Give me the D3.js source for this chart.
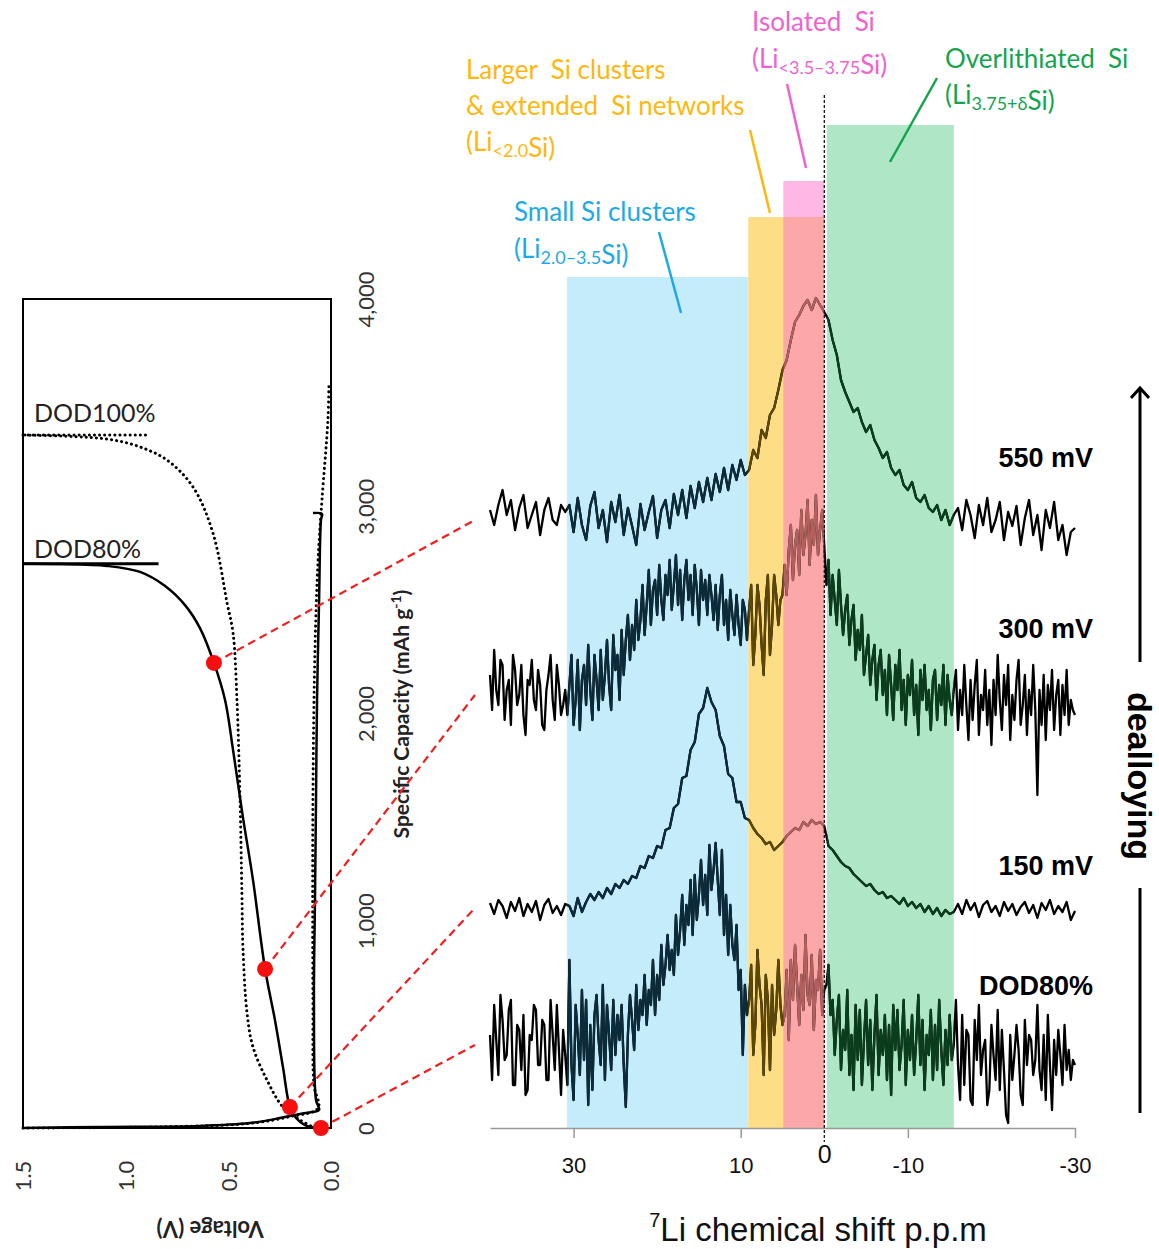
<!DOCTYPE html>
<html>
<head>
<meta charset="utf-8">
<script src="https://d3js.org/d3.v7.min.js"></script>
<style>
  body { margin: 0; background: #fff; }
  text { font-family: Lato, "Open Sans", sans-serif; }
  .arial { font-family: "Liberation Sans", Arial, sans-serif; }
</style>
</head>
<body>
<div id="chart"></div>
<script>
// ---------- data ----------
// 7Li NMR spectra from 40 to -30 ppm. 550 mV and 150 mV sampled every 0.5 ppm,
// 300 mV and DOD80% every 0.25 ppm (intensity relative to each baseline)
const spec550 = [10,-5,15,30,5,20,-10,12,25,-8,5,18,-15,10,22,0,-5,15,8,
  15,-12,22,-5,-20,14,28,-8,10,-22,18,-2,25,-15,12,-6,-25,16,-10,8,24,-18,10,20,-8,26,5,30,2,34,12,38,18,42,20,46,28,52,30,55,40,60,45,
  50,70,62,90,82,105,112,130,150,
  160,180,198,205,214,220,210,222,215,208,
  200,180,165,140,128,118,108,112,98,88,95,80,72,62,68,52,45,50,35,30,38,22,18,25,12,8,15,0,10,-5,5,
  12,-10,20,5,-18,15,-5,22,-12,0,18,-20,8,-6,14,-25,2,20,-15,5,-30,10,-8,18,-20,-5,-35,-12,-8];

const spec300 = [20,-15,45,5,-10,35,30,-25,5,15,-30,40,25,-10,0,30,-20,-40,15,10,35,-5,-15,25,10,-30,-35,5,20,40,-5,-25,30,10,-20,-10,5,
  -20,10,40,-30,-5,35,-35,15,30,-10,50,5,-25,40,15,-15,
  45,-5,20,55,10,-15,60,25,40,-5,
  65,20,55,80,35,70,45,95,55,75,110,60,
  90,125,70,105,115,80,130,95,75,120,100,135,85,110,
  140,90,125,75,115,135,95,120,80,130,
  105,70,125,95,115,80,120,100,75,
  110,65,100,120,70,95,55,105,80,
  60,100,70,50,95,85,55,
  85,110,30,60,110,90,50,20,95,120,40,70,120,100,70,95,100,
  130,100,145,170,115,150,165,120,185,140,160,195,130,175,150,200,140,165,185,150,
  110,135,80,120,95,70,125,90,60,85,
  100,50,75,90,35,65,45,80,20,40,
  60,10,35,50,-5,30,45,0,
  25,-20,40,10,-25,30,5,45,-15,15,
  -30,20,0,35,-20,10,-40,25,-5,30,-15,5,-35,15,25,-25,10,-10,30,-30,20,-5,-20,5,
  25,-35,5,-20,30,-10,-45,15,-25,10,35,-40,0,-15,25,-30,5,-50,15,-20,40,-5,-35,20,-10,30,-45,0,-25,15,35,-30,-10,20,-40,5,-20,30,-15,
  -100,
  5,-30,20,-45,10,-15,25,-35,0,15,-40,10,-20,25,-30,-5,-15,-20];

const spec150 = [5,-6,8,2,-10,6,-3,10,-8,4,-4,7,-12,3,9,-5,2,-7,4,
  2,-8,10,-4,6,14,8,16,10,20,14,24,20,28,24,32,30,42,40,52,50,62,60,78,80,100,104,130,132,158,166,194,200,220,206,198,172,162,134,130,106,106,90,
  88,80,74,70,64,66,58,62,66,
  72,76,80,78,86,82,88,84,86,82,
  62,58,52,46,42,40,34,30,26,22,24,18,14,16,10,12,8,4,10,2,6,0,4,-4,2,-6,0,-8,-2,-6,-4,
  4,-6,8,-2,5,-9,3,7,-4,2,-8,6,-3,4,-7,1,6,-5,3,-10,5,-2,8,-6,2,-4,6,-12,-3];

const specDOD80 = [10,-35,40,5,-30,50,25,-15,-10,35,45,-40,-40,20,15,-25,30,-50,-45,10,5,40,35,-20,-20,25,20,-35,-35,45,10,-25,40,-5,-50,15,-10,
  -40,85,-20,-55,40,10,-30,55,-15,45,-60,20,-45,30,50,5,
  -20,60,-35,40,10,-25,45,-10,30,5,
  40,-20,-62,10,50,25,-5,60,15,45,30,70,
  20,55,40,85,30,70,45,100,60,80,110,75,95,70,
  130,90,115,150,100,140,120,165,110,170,
  125,150,185,140,170,130,200,155,175,
  202,165,130,195,110,150,90,140,100,
  85,120,55,75,-10,60,30,
  45,80,-10,20,95,60,40,-30,70,45,-25,60,10,35,85,40,20,
  30,75,5,85,45,100,60,20,70,35,110,50,40,90,15,65,55,95,30,55,
  60,80,30,45,-10,25,50,-25,15,-5,
  55,-30,10,-45,40,-15,35,-40,5,45,-20,25,-45,10,50,-30,15,-10,30,-35,20,-50,40,-5,35,-25,0,45,-40,15,-15,30,-30,5,50,-20,25,-45,10,-10,35,-35,20,-25,45,-5,-40,15,-20,30,-15,0,
  45,-20,-55,30,-40,15,10,-55,-60,25,-15,40,-30,-5,5,-60,-45,20,-10,-35,35,-45,15,-25,-70,-78,10,-35,-10,20,-5,-50,-60,25,-20,10,5,-30,-15,40,-25,-45,10,-55,30,-20,-65,5,-30,15,-10,-40,20,-25,-5,-35,-15,-20];

const spectra = [spec550, spec300, spec150, specDOD80];
const specStep = [0.5, 0.25, 0.5, 0.25];
const specLabels = ['550 mV', '300 mV', '150 mV', 'DOD80%'];
const specOffsets = [608, 433, 220, 83];

// chemical shift bands (ppm ranges and heights in intensity units)
const bandNames = ['small', 'larger', 'isolatedTop', 'isolated', 'over'];
const bandFrom = [30.8, 9.1, 4.9, 4.9, -0.3];
const bandTo = [9.1, 4.9, 0, 0, -15.5];
const bandTop = [851, 911, 947, 911, 1003];

const shiftTicks = [30, 10, 0, -10, -30];

// galvanostatic curves: [voltage (V), capacity (mAh/g)]
const lith80 = [[1.5,0],[1.125,5],[0.638,10],[0.395,24],[0.248,48],[0.151,68],[0.093,77],[0.058,87],[0.073,135],[0.083,618],[0.078,1100],[0.073,1583],[0.068,2065],[0.058,2548],[0.049,2934],[0.044,2963],[0.088,2967]];
const delith80 = [[0.05,0],[0.127,14],[0.17,48],[0.2,101],[0.234,294],[0.273,521],[0.321,767],[0.38,1197],[0.429,1500],[0.477,1824],[0.516,2065],[0.57,2244],[0.638,2412],[0.711,2523],[0.808,2615],[0.93,2683],[1.091,2712],[1.32,2721],[1.5,2722]];
const lith100 = [[1.5,0],[0.8,6],[0.4,22],[0.2,55],[0.063,96],[0.083,207],[0.088,618],[0.088,1583],[0.078,2306],[0.063,2740],[0.044,3030],[0.015,3416],[0.01,3600]];
const delith100 = [[0.078,0],[0.151,39],[0.234,101],[0.312,232],[0.38,391],[0.409,555],[0.429,873],[0.434,1134],[0.443,1583],[0.458,2065],[0.477,2388],[0.506,2533],[0.575,2871],[0.672,3093],[0.799,3223],[0.93,3286],[1.062,3320],[1.208,3334],[1.5,3344]];
const dod80Mark = [[1.5,2722],[0.84,2722]];
const dod100Mark = [[1.5,3344],[0.9,3344]];
// points where spectra were taken: DOD80%, 150 mV, 300 mV, 550 mV
const samplePoints = [[0.049,0],[0.2,101],[0.321,767],[0.57,2244]];
const sampleSpec = [3, 2, 1, 0];

const capTicks = [0, 1000, 2000, 3000, 4000];
const voltTicks = [0, 0.5, 1.0, 1.5];

// ---------- drawing ----------
const width = 1159, height = 1249;
const svg = d3.select('#chart').append('svg')
  .attr('width', width).attr('height', height);
const defs = svg.append('defs');

const bandFill = { small: '#c5ecfa', larger: '#fedd87', isolatedTop: '#fdb8e5', isolated: '#fda8a8', over: '#aee6c6' };
const bandLine = { small: '#0b2b3b', larger: '#5c4705', isolated: '#b2605e', over: '#0a3d1c' };

// ---- right panel: spectra ----
const xScale = d3.scaleLinear().domain([40, -30]).range([490, 1075]);
const yScale = d3.scaleLinear().domain([0, 1000]).range([1128, 128]);

const bands = bandNames.map((n, i) => ({ name: n, from: bandFrom[i], to: bandTo[i], top: bandTop[i] }));

svg.append('g').selectAll('rect').data(bands).enter().append('rect')
  .attr('x', d => xScale(d.from))
  .attr('width', d => xScale(d.to) - xScale(d.from))
  .attr('y', d => yScale(d.top))
  .attr('height', d => yScale(0) - yScale(d.top))
  .attr('fill', d => bandFill[d.name]);

bands.filter(d => bandLine[d.name]).forEach(d => {
  defs.append('clipPath').attr('id', 'clip-' + d.name)
    .append('rect')
    .attr('x', xScale(d.from)).attr('width', xScale(d.to) - xScale(d.from))
    .attr('y', 0).attr('height', height);
});

const specG = svg.append('g');
spectra.forEach((s, k) => {
  const line = d3.line()
    .x((d, i) => xScale(40 - i * specStep[k]))
    .y(d => yScale(specOffsets[k] + d));
  specG.append('path').attr('d', line(s))
    .attr('fill', 'none').attr('stroke', '#000')
    .attr('stroke-width', 2.3).attr('stroke-linejoin', 'round');
  bands.filter(d => bandLine[d.name]).forEach(b => {
    specG.append('path').attr('d', line(s))
      .attr('clip-path', 'url(#clip-' + b.name + ')')
      .attr('fill', 'none').attr('stroke', bandLine[b.name])
      .attr('stroke-width', 2.3).attr('stroke-linejoin', 'round');
  });
});

// spectrum labels
const labelLift = [62, 66, 42, 59];
svg.append('g').selectAll('text').data(specLabels).enter().append('text')
  .attr('class', 'arial')
  .attr('x', 1093)
  .attr('y', (d, i) => yScale(specOffsets[i]) - labelLift[i] + 9)
  .attr('text-anchor', 'end')
  .attr('font-size', 27).attr('font-weight', 'bold')
  .text(d => d);

// zero reference line
svg.append('line')
  .attr('x1', xScale(0)).attr('x2', xScale(0))
  .attr('y1', 95).attr('y2', 1142)
  .attr('stroke', '#000').attr('stroke-width', 1.2)
  .attr('stroke-dasharray', '3,2');

// x axis
const xAxis = d3.axisBottom(xScale)
  .tickValues(shiftTicks)
  .tickSize(10).tickSizeOuter(0).tickPadding(19)
  .tickFormat(d => d);
const xAxisG = svg.append('g').attr('transform', `translate(0,${yScale(0)})`).call(xAxis);
xAxisG.select('.domain').attr('stroke', '#999').attr('stroke-width', 1.5);
xAxisG.selectAll('.tick line').attr('stroke', '#999').attr('stroke-width', 1.5)
  .filter(d => d === 0).remove();
xAxisG.selectAll('.tick text')
  .attr('class', 'arial').attr('fill', '#111')
  .attr('dy', d => d === 0 ? '0.25em' : '0.71em')
  .attr('font-size', d => d === 0 ? 25 : 22);

const xTitle = svg.append('text').attr('class', 'arial')
  .attr('x', 818).attr('y', 1241).attr('text-anchor', 'middle')
  .attr('font-size', 33).attr('fill', '#111');
xTitle.append('tspan').attr('font-size', 20).attr('dy', -14).text('7');
xTitle.append('tspan').attr('dy', 14).text('Li chemical shift p.p.m');

// dealloying arrow
defs.append('marker').attr('id', 'arrowhead')
  .attr('viewBox', '0 0 20 20').attr('refX', 13).attr('refY', 10)
  .attr('markerWidth', 20).attr('markerHeight', 20).attr('markerUnits', 'userSpaceOnUse')
  .attr('orient', 'auto')
  .append('path').attr('d', 'M3,1 L13,10 L3,19')
  .attr('fill', 'none').attr('stroke', '#000').attr('stroke-width', 3);
svg.append('line').attr('x1', 1140).attr('x2', 1140).attr('y1', 662).attr('y2', 388)
  .attr('stroke', '#000').attr('stroke-width', 3)
  .attr('marker-end', 'url(#arrowhead)');
svg.append('line').attr('x1', 1140).attr('x2', 1140).attr('y1', 888).attr('y2', 1113)
  .attr('stroke', '#000').attr('stroke-width', 3);
svg.append('text').attr('class', 'arial')
  .attr('transform', 'translate(1128,776) rotate(90)')
  .attr('text-anchor', 'middle').attr('font-size', 34).attr('font-weight', 'bold')
  .text('dealloying');

// callout labels
function richText(x, y, parts, color) {
  const t = svg.append('text').attr('x', x).attr('y', y)
    .attr('font-size', 26).attr('fill', color)
    .style('white-space', 'pre');
  parts.forEach(p => {
    if (p.sub) {
      t.append('tspan').attr('font-size', 18).attr('dy', 6).text(p.t);
      t.append('tspan').attr('dy', -6).text('');
    } else {
      t.append('tspan').text(p.t);
    }
  });
  return t;
}
const cBlue = '#1ea9e6', cOrange = '#ffb70f', cPink = '#f063cf', cGreen = '#16a34e';
richText(752, 31, [{ t: 'Isolated  Si' }], cPink);
richText(752, 68, [{ t: '(Li' }, { t: '<3.5\u20133.75', sub: true }, { t: 'Si)' }], cPink);
richText(945, 68, [{ t: 'Overlithiated  Si' }], cGreen);
richText(945, 104, [{ t: '(Li' }, { t: '3.75+\u03b4', sub: true }, { t: 'Si)' }], cGreen);
richText(466, 79, [{ t: 'Larger  Si clusters' }], cOrange);
richText(466, 115, [{ t: '& extended  Si networks' }], cOrange);
richText(466, 151, [{ t: '(Li' }, { t: '<2.0', sub: true }, { t: 'Si)' }], cOrange);
richText(514, 221, [{ t: 'Small Si clusters' }], cBlue);
richText(514, 258, [{ t: '(Li' }, { t: '2.0\u20133.5', sub: true }, { t: 'Si)' }], cBlue);

// callout leaders in data coordinates [ppm, intensity]
const leaders = [
  { a: [19.78, 896], b: [17.14, 815], c: cBlue },
  { a: [8.89, 998], b: [6.5, 915], c: cOrange },
  { a: [4.46, 1044], b: [2.19, 960], c: cPink },
  { a: [-13.49, 1050], b: [-7.86, 966], c: cGreen }
];
svg.append('g').selectAll('line').data(leaders).enter().append('line')
  .attr('x1', d => xScale(d.a[0])).attr('y1', d => yScale(d.a[1]))
  .attr('x2', d => xScale(d.b[0])).attr('y2', d => yScale(d.b[1]))
  .attr('stroke', d => d.c).attr('stroke-width', 2.5);

// ---- left panel: voltage profile (rotated) ----
const vScale = d3.scaleLinear().domain([0, 1.5]).range([331, 23]);
const capScale = d3.scaleLinear().domain([0, 4000]).range([1128, 299]);

svg.append('rect')
  .attr('x', vScale(1.5)).attr('y', capScale(4000))
  .attr('width', vScale(0) - vScale(1.5)).attr('height', capScale(0) - capScale(4000))
  .attr('fill', 'none').attr('stroke', '#000').attr('stroke-width', 2);

const vLine = d3.line().x(d => vScale(d[0])).y(d => capScale(d[1]))
  .curve(d3.curveCatmullRom.alpha(0.5));
const straight = d3.line().x(d => vScale(d[0])).y(d => capScale(d[1]));

[lith100, delith100].forEach(c => {
  svg.append('path').attr('d', vLine(c)).attr('fill', 'none').attr('stroke', '#000')
    .attr('stroke-dasharray', '0.1,5').attr('stroke-linecap', 'round').attr('stroke-width', 3);
});
svg.append('path').attr('d', straight(dod100Mark)).attr('fill', 'none').attr('stroke', '#000')
  .attr('stroke-dasharray', '0.1,5').attr('stroke-linecap', 'round').attr('stroke-width', 3);

[lith80, delith80].forEach(c => {
  svg.append('path').attr('d', vLine(c)).attr('fill', 'none').attr('stroke', '#000')
    .attr('stroke-width', 2.5);
});
svg.append('path').attr('d', straight(dod80Mark)).attr('fill', 'none').attr('stroke', '#000')
  .attr('stroke-width', 3);

svg.append('text').attr('x', 34).attr('y', 422).attr('font-size', 25).attr('fill', '#222').text('DOD100%');
svg.append('text').attr('x', 34).attr('y', 558).attr('font-size', 25).attr('fill', '#222').text('DOD80%');

// capacity axis (right side, rotated labels)
const capAxis = d3.axisRight(capScale).tickValues(capTicks).tickSize(0)
  .tickFormat(d3.format(','));
const capAxisG = svg.append('g').attr('transform', 'translate(366,0)').call(capAxis);
capAxisG.select('.domain').remove();
capAxisG.selectAll('.tick text')
  .attr('x', 0).attr('dy', '0.35em').attr('transform', 'rotate(-90)')
  .attr('text-anchor', 'middle')
  .attr('font-family', 'Lato, sans-serif').attr('font-size', 22).attr('fill', '#333');

const capTitle = svg.append('text')
  .attr('transform', 'translate(409,714) rotate(-90)')
  .attr('text-anchor', 'middle').attr('font-size', 21).attr('font-weight', 'bold').attr('fill', '#222');
capTitle.append('tspan').text('Specific Capacity (mAh g');
capTitle.append('tspan').attr('font-size', 14).attr('dy', -8).text('-1');
capTitle.append('tspan').attr('dy', 8).text(')');

// voltage axis (bottom, rotated labels)
const vAxis = d3.axisBottom(vScale).tickValues(voltTicks).tickSize(0)
  .tickFormat(d3.format('.1f'));
const vAxisG = svg.append('g').attr('transform', 'translate(0,1176)').call(vAxis);
vAxisG.select('.domain').remove();
vAxisG.selectAll('.tick text')
  .attr('y', 0).attr('dy', '0.35em').attr('transform', 'rotate(-90)')
  .attr('text-anchor', 'middle')
  .attr('font-family', 'Lato, sans-serif').attr('font-size', 22).attr('fill', '#333');

svg.append('text')
  .attr('transform', 'translate(210,1221) rotate(180)')
  .attr('text-anchor', 'middle').attr('font-size', 22).attr('font-weight', 'bold').attr('fill', '#222')
  .text('Voltage (V)');

// connectors from sample points to spectra
const connG = svg.append('g');
samplePoints.forEach((p, i) => {
  const k = sampleSpec[i];
  connG.append('line')
    .attr('x1', vScale(p[0])).attr('y1', capScale(p[1]))
    .attr('x2', xScale(41.8)).attr('y2', yScale(specOffsets[k]))
    .attr('stroke', '#f21d1d').attr('stroke-width', 2.2)
    .attr('stroke-dasharray', '8,5');
});
connG.selectAll('circle').data(samplePoints).enter().append('circle')
  .attr('cx', d => vScale(d[0])).attr('cy', d => capScale(d[1]))
  .attr('r', 8).attr('fill', '#f50f0f');
</script>
</body>
</html>
